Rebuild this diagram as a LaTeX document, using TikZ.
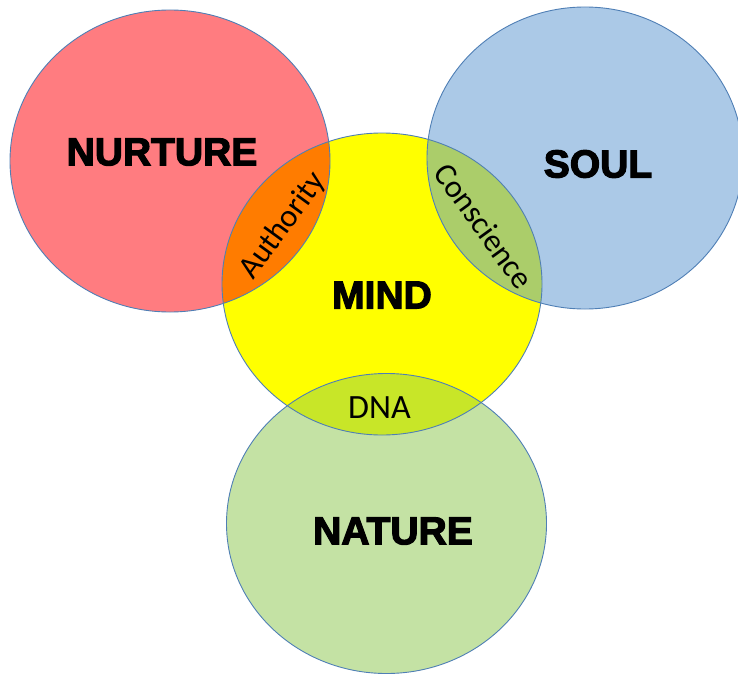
\documentclass[tikz,border=0pt]{standalone}
\usepackage{fontspec}
\newfontfamily\heavy[FakeBold=3]{Liberation Sans Bold}
\newfontfamily\calib{Carlito}
\definecolor{nurtc}{HTML}{FF7C80}
\definecolor{soulc}{HTML}{ABC9E7}
\definecolor{mindc}{HTML}{FFFF00}
\definecolor{natc}{HTML}{C4E2A4}
\definecolor{authc}{HTML}{FF7C00}
\definecolor{consc}{HTML}{ABCD6A}
\definecolor{dnac}{HTML}{C8E628}
\definecolor{edgec}{HTML}{4F7FB5}
\tikzset{
  big/.style={font=\heavy\fontsize{39}{41}\selectfont, text=black, inner sep=0pt},
  small/.style={font=\calib\fontsize{32}{34}\selectfont, text=black, inner sep=0pt},
  rim/.style={draw=edgec, line width=0.9pt}
}
\begin{document}
\begin{tikzpicture}[x=1pt,y=-1pt]
\useasboundingbox (0,0) rectangle (738,674);
\def\nurt{(170,161) ellipse [x radius=160, y radius=151]}
\def\soul{(585,158) ellipse [x radius=158, y radius=151]}
\def\mind{(382,284) ellipse [x radius=160, y radius=151]}
\def\natu{(386.5,523.5) ellipse [x radius=160, y radius=150]}
% fills
\fill[nurtc] \nurt;
\fill[soulc] \soul;
\fill[mindc] \mind;
\fill[natc] \natu;
\begin{scope}
  \clip \mind;
  \fill[authc] \nurt;
  \fill[consc] \soul;
  \fill[dnac] \natu;
\end{scope}
% outlines
\draw[rim] \nurt;
\draw[rim] \soul;
\draw[rim] \mind;
\draw[rim] \natu;
% labels
\node[big] (nurture) at (162,152) {NURTURE};
\node[big] (soul) at (598,164) {SOUL};
\node[big] (mind) at (382,295) {MIND};
\node[big] (nature) at (393,531) {NATURE};
\node[small, rotate=54] (authority) at (283,226) {Authority};
\node[small, rotate=-54] (conscience) at (484,226) {Conscience};
\node[small, font=\calib\fontsize{34}{36}\selectfont] (dna) at (379.5,408) {DNA};
\end{tikzpicture}
\end{document}
